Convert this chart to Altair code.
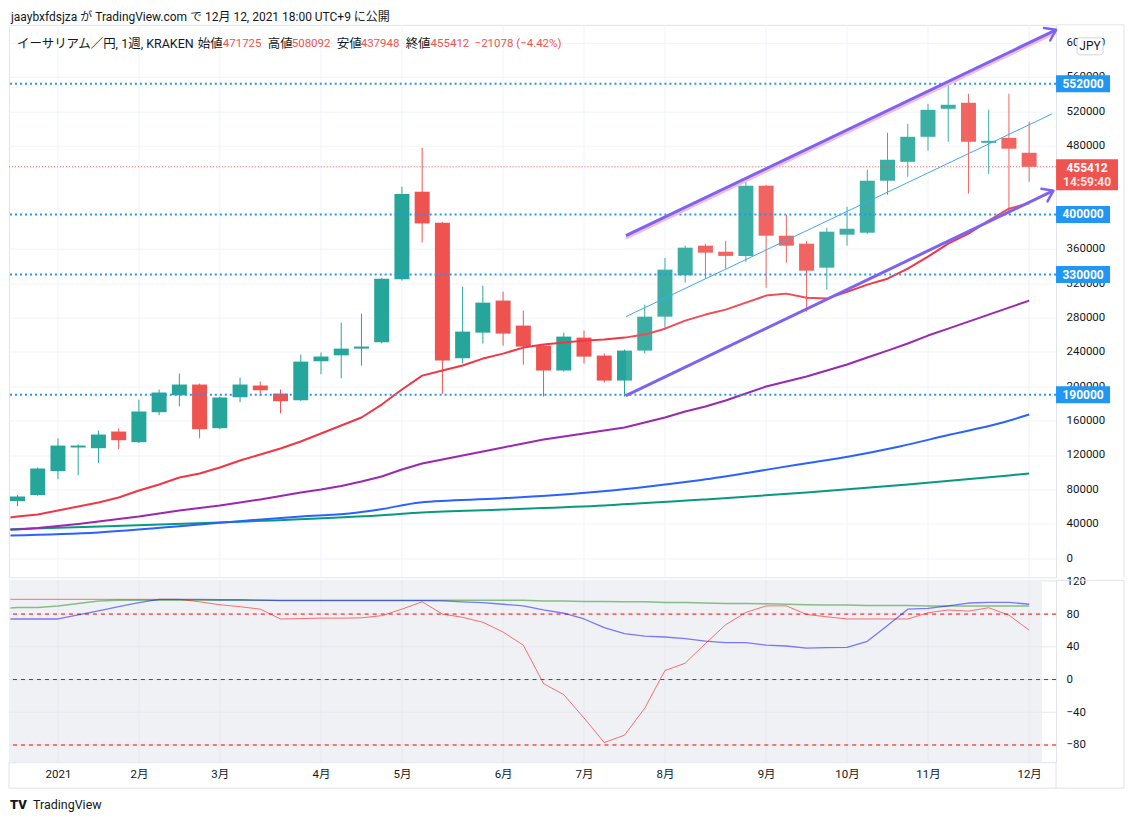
import altair as alt
import pandas as pd

FONT = "Roboto, 'Noto Sans CJK JP', sans-serif"
GRID = "#f0f3fa"
BORDER = "#e0e3eb"
UP = "#26a69a"
DOWN = "#ef5350"
TXT = "#131722"
LEVEL_BLUE = "#2196f3"
CH_PURPLE = "#7e63f2"

# ---------------- data ----------------
bar_k = list(range(51))  # weekly bars, 0 = 2020-12-21 ... 50 = 2021-12-06
opens = [66300, 73300, 101200, 128700, 127900, 147300, 134900, 169800, 189500, 202000,
         151200, 187200, 200800, 191500, 183700, 229100, 236000, 243800, 251200, 324400,
         426400, 390300, 232600, 262400, 299700, 270600, 247300, 218300, 256600, 235700,
         206600, 241500, 281000, 329100, 363600, 356600, 351700, 433400, 375200, 365900,
         338000, 376400, 378700, 439200, 461200, 490300, 522900, 529900, 483300, 489100,
         471725]
highs = [73300, 105500, 139200, 132200, 148500, 150800, 184500, 196200, 214800, 203100,
         188000, 210100, 205500, 196200, 236900, 239200, 274100, 284500, 326000, 432200,
         477600, 391000, 315900, 317100, 310100, 288000, 248000, 262400, 264800, 238000,
         242700, 295000, 349400, 363600, 366000, 369400, 439200, 434300, 399700, 369000,
         384500, 408900, 452000, 495000, 505400, 528700, 550800, 540400, 521700, 540400,
         508092]
lows = [60500, 72500, 91900, 96500, 110500, 126700, 134000, 166300, 176700, 139500,
        150000, 181400, 188400, 168600, 183000, 214000, 209300, 224000, 250000, 323000,
        367400, 191200, 226400, 249700, 247300, 225200, 188000, 217100, 226400, 204300,
        188000, 238000, 267900, 320600, 325200, 336900, 345000, 314800, 343800, 286800,
        312500, 363600, 377000, 422900, 443700, 474100, 484500, 424100, 447100, 399700,
        437948]
closes = [71700, 104300, 131000, 131000, 143800, 137200, 170600, 192700, 202000, 150000,
          186900, 202000, 195300, 182600, 228700, 234600, 243800, 246200, 325200, 423800,
          389500, 229900, 263600, 297300, 261300, 246200, 218300, 257800, 234500, 206600,
          241500, 281000, 335700, 361300, 355500, 351700, 433400, 375200, 363600, 334500,
          379900, 383300, 439200, 463600, 490300, 521700, 527600, 484500, 485600, 476490,
          455412]

ma_k = [-0.35] + bar_k
ma_red = [47300,
          48500, 50800, 55500, 60100, 64800, 70600, 78700, 85700, 93800, 98500,
          105500, 113600, 120600, 127600, 135700, 145000, 154300, 163600, 178700, 196200,
          212400, 218300, 224100, 232200, 238000, 245000, 248500, 250800, 253100, 254300,
          256600, 260100, 267000, 276400, 283400, 289200, 297300, 305500, 307800, 303100,
          302000, 309800, 318300, 325200, 336900, 350800, 365900, 377600, 392700, 406600,
          413000]
ma_purple = [33000,
             33400, 35100, 37400, 39800, 42700, 45600, 48500, 52000, 55500, 58400,
             61300, 64800, 68300, 72300, 76400, 79900, 84000, 89200, 95000, 103100,
             110100, 114800, 119400, 124100, 128800, 133400, 138000, 141500, 145000, 148500,
             152000, 157800, 163600, 170600, 176400, 183400, 191500, 199700, 205500, 211300,
             218300, 225300, 233400, 241500, 249700, 259000, 267100, 275200, 283400, 291500,
             299700]
blue_k = [-0.35, 4, 9, 14, 16.4, 17.9, 19.9, 23.8, 26.3, 28.8, 31.2, 33.6, 36.2, 38.6, 41.1,
          43.6, 46.1, 48.5, 50]
ma_blue = [26400, 29900, 39200, 48500, 52000, 56600, 64800, 69400, 72900, 77600, 83400,
           90300, 99700, 109000, 118300, 129900, 143800, 156600, 167100]
green_k = [-0.35, 0, 10, 18, 20, 24, 29, 34, 39, 44, 49, 50]
ma_green = [33500, 33800, 41500, 50000, 53100, 56600, 61300, 68300, 76400, 85700, 96200, 98500]

ind_k = [-0.35] + bar_k
ind_red = [98,
           98, 98, 98, 98, 98, 98, 98, 98, 98, 95,
           91.4, 89, 86, 74, 74.5, 75, 75, 75.4, 78, 86,
           95, 80, 76, 70, 58, 42, -5, -18.5, -47, -77,
           -68, -35, 11, 20, 44, 67, 82, 90, 90, 79.5,
           76.7, 74, 74, 74, 74, 81.6, 85, 83.6, 87.7, 78.7,
           60.3]
ind_blue = [74,
            74, 74, 74, 79, 84, 89, 94, 98, 98, 98,
            97.5, 97.5, 97, 96.5, 96.5, 96.5, 96.5, 96.5, 96.5, 96.5,
            96.5, 96, 95, 94, 92, 90, 85, 81, 74, 63.5,
            56, 53, 52, 50, 47, 45, 45, 42, 41, 38.5,
            39, 39.4, 46.7, 66, 86, 87, 90, 93.5, 94.3, 94.3,
            92]
ind_green = [87.5,
             88, 88, 90, 93, 96, 97, 97, 97, 97, 97,
             97, 97, 97, 97, 97, 97, 97, 97, 97, 97,
             97, 97, 97, 97, 97, 97, 96, 96, 95.5, 95.5,
             95, 95, 94, 94, 93.5, 93, 93, 92.5, 92, 91.5,
             91, 91, 90.5, 90.5, 90.5, 90, 90, 90, 90, 90,
             90]
ind_levels = [80, 0, -80]
ind_level_colors = ["#ff0000", "#008000", "#ff0000"]

levels = [552000, 400000, 330000, 190000]

upper_k = [30.07, 51.33]
upper_v = [375200, 614800]
lower_k = [30.07, 51.2]
lower_v = [189200, 427600]
mid_k = [30.07, 51.14]
mid_v = [281000, 517100]
fill_k = [30.07, 51.2]
fill_lo = [189200, 427600]
fill_hi = [375200, 613600]

month_k = [2, 6, 10, 15, 19, 24, 28, 32, 37, 41, 45, 50]
month_labels = ["2021", "2月", "3月", "4月", "5月", "6月", "7月", "8月", "9月", "10月", "11月", "12月"]
# 400000 and 440000 sit fully under the level / price boxes in the reference
price_ticks = [0, 40000, 80000, 120000, 160000, 200000, 240000, 280000, 320000, 360000,
               480000, 520000, 560000, 600000]
ind_ticks = [120, 80, 40, 0, -40, -80]

# ---------------- scales & axes ----------------
W, H1, H2 = 1048, 553, 182
xs = alt.Scale(domain=[-0.42, 51.33], nice=False, zero=False, padding=0)
ys = alt.Scale(domain=[-22400, 620600], nice=False, zero=False, padding=0)
ys2 = alt.Scale(domain=[-101, 121.2], nice=False, zero=False, padding=0)

price_axis = alt.Axis(orient="right", values=price_ticks, format="d", grid=True, gridColor=GRID,
                      ticks=False, domain=False, labelPadding=10, labelAlign="left",
                      labelFont=FONT, labelFontSize=11.5, labelColor=TXT, title=None,
                      labelOverlap=False, labelBound=False)
ind_axis = alt.Axis(orient="right", values=ind_ticks, format="d", grid=False, ticks=False,
                    domain=False, labelPadding=10, labelAlign="left", labelFont=FONT,
                    labelFontSize=11.5, labelColor=TXT, title=None, labelOverlap=False,
                    labelBound=False)
label_expr = "[" + ",".join(f"'{s}'" for s in month_labels) + "][indexof([" + \
    ",".join(str(k) for k in month_k) + "], datum.value)]"
time_axis = alt.Axis(values=month_k, labelExpr=label_expr, grid=False, ticks=False, domain=False,
                     labelPadding=6, labelFont=FONT, labelFontSize=11.5, labelColor=TXT,
                     title=None, labelOverlap=False, labelFlush=False, labelBound=False)

one = pd.DataFrame({"z": [0]})


def X(field="k", bottom=False):
    return alt.X(f"{field}:Q", scale=xs, axis=time_axis if bottom else None)


def Y(field, ind=False):
    if ind:
        return alt.Y(f"{field}:Q", scale=ys2, axis=ind_axis)
    return alt.Y(f"{field}:Q", scale=ys, axis=price_axis)


def txt(s, x, y, size=12.5, color=TXT, weight="normal", align="left", font=FONT):
    return alt.Chart(one).mark_text(text=s, align=align, baseline="middle", fontSize=size,
                                    font=font, color=color, fontWeight=weight).encode(
        x=alt.value(x), y=alt.value(y))


def prule(x, y, x2=None, y2=None, color=BORDER):
    enc = dict(x=alt.value(x), y=alt.value(y))
    if x2 is not None:
        enc["x2"] = alt.value(x2)
    if y2 is not None:
        enc["y2"] = alt.value(y2)
    return alt.Chart(one).mark_rule(color=color, strokeWidth=1).encode(**enc)


# ---------------- price panel ----------------
candles = pd.DataFrame({"k": bar_k, "o": opens, "h": highs, "l": lows, "c": closes})
candles["dir"] = ["up" if c >= o else "down" for o, c in zip(opens, closes)]
ccolor = alt.Color("dir:N", scale=alt.Scale(domain=["up", "down"], range=[UP, DOWN]), legend=None)

vgrid = alt.Chart(pd.DataFrame({"k": month_k})).mark_rule(color=GRID, strokeWidth=1).encode(x=X())

wicks = alt.Chart(candles).mark_rule(strokeWidth=1).encode(
    x=X(), y=Y("l"), y2="h:Q", color=ccolor)
bodies = alt.Chart(candles).mark_bar(size=15).encode(x=X(), y=Y("o"), y2="c:Q", color=ccolor)


def ma_line(ks, vs, color, interp="linear"):
    return alt.Chart(pd.DataFrame({"k": ks, "v": vs})).mark_line(
        color=color, strokeWidth=2, interpolate=interp, strokeJoin="round").encode(x=X(), y=Y("v"))


ma_layers = [ma_line(green_k, ma_green, "#089981", "monotone"),
             ma_line(blue_k, ma_blue, "#2962ff", "monotone"),
             ma_line(ma_k, ma_purple, "#9c27b0"),
             ma_line(ma_k, ma_red, "#f23645")]

overlay = alt.Chart(pd.DataFrame({"k": fill_k, "lo": fill_lo, "hi": fill_hi})).mark_area(
    color="white", opacity=0.1).encode(x=X(), y=Y("lo"), y2="hi:Q")

level_df = pd.DataFrame({"v": levels, "t": [str(v) for v in levels]})
level_lines = alt.Chart(level_df).mark_rule(color=LEVEL_BLUE, strokeWidth=2,
                                            strokeDash=[2, 3]).encode(
    y=Y("v"), x=alt.value(1), x2=alt.value(W))

last_close = closes[-1]
cur_df = pd.DataFrame({"v": [last_close], "t": [str(last_close)]})
cur_line = alt.Chart(cur_df).mark_rule(color=DOWN, strokeWidth=1, strokeDash=[1, 2]).encode(y=Y("v"))

mid_line = alt.Chart(pd.DataFrame({"k": mid_k, "v": mid_v})).mark_line(
    color="#42a5f5", strokeWidth=1).encode(x=X(), y=Y("v"))
upper_shadow = alt.Chart(pd.DataFrame({"k": upper_k, "v": upper_v})).mark_line(
    color="#f6bcd4", strokeWidth=3, yOffset=2.5).encode(x=X(), y=Y("v"))
upper_line = alt.Chart(pd.DataFrame({"k": upper_k, "v": upper_v})).mark_line(
    color=CH_PURPLE, strokeWidth=3).encode(x=X(), y=Y("v"))
lower_line = alt.Chart(pd.DataFrame({"k": lower_k, "v": lower_v})).mark_line(
    color=CH_PURPLE, strokeWidth=3).encode(x=X(), y=Y("v"))
heads = alt.Chart(pd.DataFrame({"k": [upper_k[-1], lower_k[-1]], "v": [upper_v[-1], lower_v[-1]]})).mark_point(
    shape="M-1,-0.7L0,0L-1,0.7", size=400, filled=False, strokeWidth=2.5, color=CH_PURPLE,
    opacity=1, angle=334, strokeCap="round", strokeJoin="round").encode(x=X(), y=Y("v"))

# axis label boxes
box_path = "M-3.18,-1L3.18,-1L3.18,1L-3.18,1Z"
level_boxes = alt.Chart(level_df).mark_point(shape=box_path, size=289, filled=True, opacity=1,
                                             color=LEVEL_BLUE, strokeWidth=0).encode(
    x=alt.value(1075), y=Y("v"))
level_box_txt = alt.Chart(level_df).mark_text(color="white", fontWeight="bold", fontSize=12,
                                              font=FONT).encode(
    x=alt.value(1075), y=Y("v"), text="t:N")
cur_box = alt.Chart(cur_df).mark_point(shape="M-2,-1L2,-1L2,1L-2,1Z", size=961, filled=True,
                                       opacity=1, color=DOWN, strokeWidth=0, yOffset=8).encode(
    x=alt.value(1079), y=Y("v"))
cur_box_txt = alt.Chart(cur_df).mark_text(color="white", fontWeight="bold", fontSize=12,
                                          font=FONT, yOffset=1.5).encode(
    x=alt.value(1079), y=Y("v"), text="t:N")
cur_box_time = alt.Chart(cur_df).mark_text(text="14:59:40", color="#fde3e3", fontWeight="bold",
                                           fontSize=12, font=FONT, yOffset=15.5).encode(
    x=alt.value(1079), y=Y("v"))

jpy_box = alt.Chart(one).mark_rect(fill="white", stroke="#d1d4dc", strokeWidth=1,
                                   cornerRadius=3).encode(
    x=alt.value(1069), x2=alt.value(1095), y=alt.value(13), y2=alt.value(30))
jpy_txt = txt("JPY", 1082, 21.5, size=12, align="center")

# header + legend
o_, h_, l_, c_ = opens[-1], highs[-1], lows[-1], closes[-1]
chg = c_ - closes[-2]
pct = chg / closes[-2] * 100
header = txt("jaaybxfdsjza が TradingView.com で 12月 12, 2021 18:00 UTC+9 に公開", 2, -8, size=12)
NUM = 11.5
legend = [
    txt("イーサリアム／円, 1週, KRAKEN", 8, 19),
    txt("始値", 189, 19), txt(str(o_), 214, 19, color=DOWN, size=NUM),
    txt("高値", 259, 19), txt(str(h_), 283, 19, color=DOWN, size=NUM),
    txt("安値", 328, 19), txt(str(l_), 352, 19, color=DOWN, size=NUM),
    txt("終値", 397, 19), txt(str(c_), 422, 19, color=DOWN, size=NUM),
    txt(f"{chg:+d} ({pct:+.2f}%)".replace("-", "−"), 466, 19, color=DOWN, size=NUM),
]

frame_top = [prule(1048, 0, x2=1116), prule(1116, 0, y2=553)]

top = alt.layer(
    vgrid, wicks, bodies, *ma_layers, overlay, level_lines, cur_line,
    mid_line, upper_shadow, upper_line, lower_line, heads,
    level_boxes, level_box_txt, cur_box, cur_box_txt, cur_box_time,
    jpy_box, jpy_txt, header, *legend, *frame_top
).properties(width=W, height=H1)

# ---------------- indicator panel ----------------
ind_bg = alt.Chart(one).mark_rect(fill="#f0f1f5").encode(
    x=alt.value(0), x2=alt.value(1034), y=alt.value(0), y2=alt.value(H2))

ind_vgrid = alt.Chart(pd.DataFrame({"k": month_k})).mark_rule(color="#e6e8ee", strokeWidth=1).encode(
    x=X(bottom=True))
ind_hgrid = alt.Chart(pd.DataFrame({"v": [80, 40, 0, -40, -80]})).mark_rule(
    color="#e6e8ee", strokeWidth=1).encode(y=Y("v", ind=True))

ind_lvl = alt.Chart(pd.DataFrame({"v": ind_levels, "c": ind_level_colors})).mark_rule(
    strokeWidth=1, strokeDash=[4, 4]).encode(
    y=Y("v", ind=True), color=alt.Color("c:N", scale=None))


def ind_line(vals, color, width, op):
    return alt.Chart(pd.DataFrame({"k": ind_k, "v": vals})).mark_line(
        color=color, strokeWidth=width, opacity=op, strokeJoin="round").encode(
        x=X(bottom=True), y=Y("v", ind=True))


ind_lines = [ind_line(ind_green, "#008000", 1.5, 0.45),
             ind_line(ind_blue, "#0000ff", 1.3, 0.5),
             ind_line(ind_red, "#ff0000", 1, 0.55)]

frame_bot = [prule(1048, 0, x2=1116), prule(1116, 0, y2=208), prule(0, 182, y2=208),
             prule(1048, 182, y2=208), prule(0, 208, x2=1116)]
logo = txt("TV", 1, 225, size=13, weight=900, color=TXT)
brand = txt("TradingView", 24, 225, size=12.5, color=TXT)

bottom = alt.layer(
    ind_bg, ind_vgrid, ind_hgrid, ind_lvl, *ind_lines, *frame_bot, logo, brand
).properties(width=W, height=H2)

PAD = {"left": 0, "top": 1.5, "right": 2, "bottom": 2}
chart = alt.vconcat(top, bottom, spacing=3, bounds="flush").properties(
    padding=PAD
).configure_view(stroke=BORDER, strokeWidth=1)

chart.save("out.html", embed_options={"renderer": "svg", "actions": False})
